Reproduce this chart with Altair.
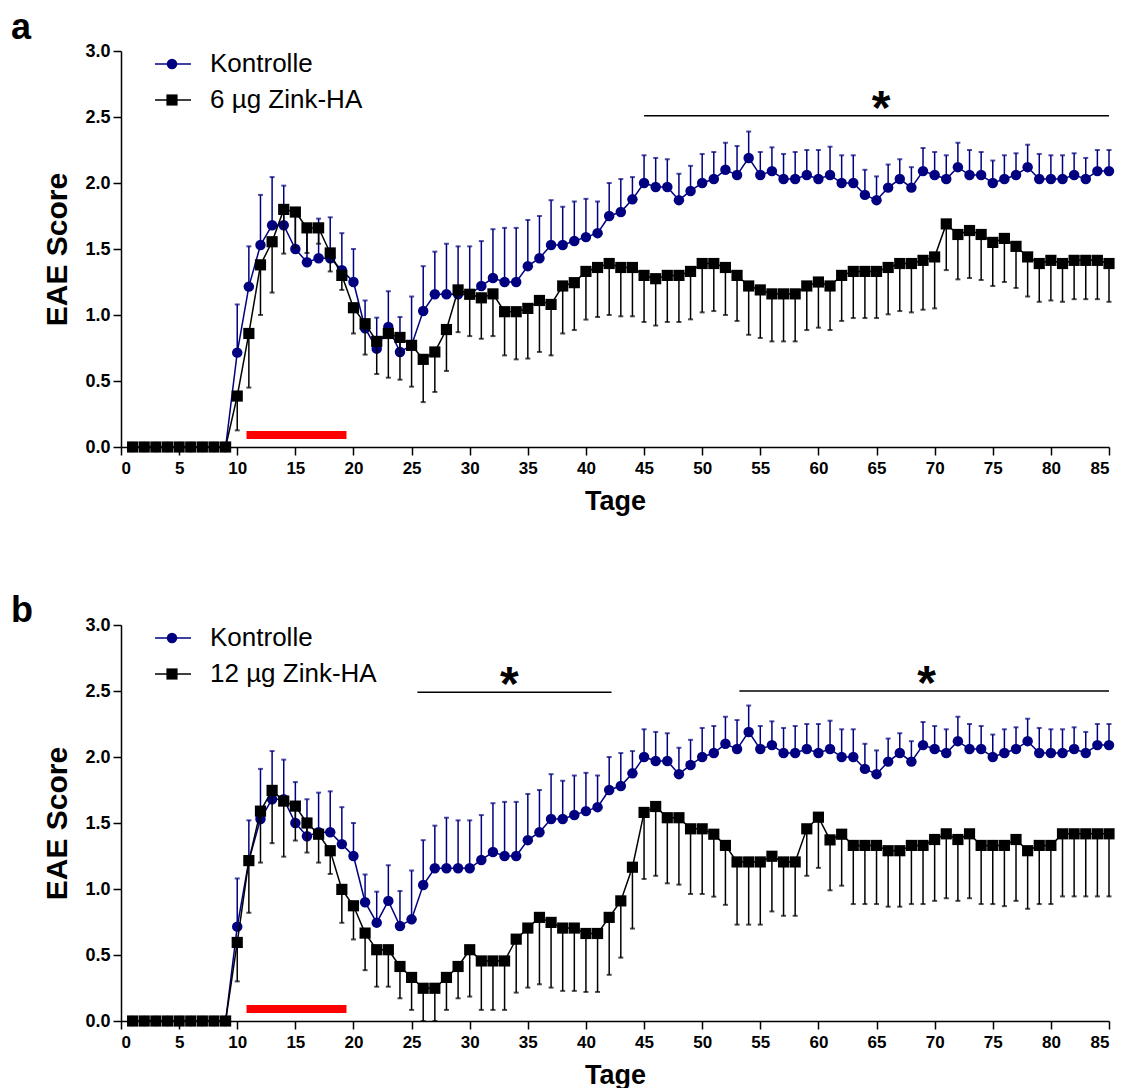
import altair as alt
import pandas as pd

# ---------------- data ----------------
days = list(range(1, 86))

ctrl_mean = [0, 0, 0, 0, 0, 0, 0, 0, 0,
             0.715, 1.215, 1.53, 1.68, 1.68, 1.50, 1.40, 1.43, 1.43, 1.34, 1.25,
             0.90, 0.745, 0.91, 0.72, 0.77, 1.03, 1.157, 1.157, 1.157, 1.157,
             1.22, 1.28, 1.25, 1.25, 1.37, 1.43, 1.53, 1.53, 1.56, 1.59,
             1.62, 1.75, 1.78, 1.876, 2.0, 1.97, 1.97, 1.87, 1.94, 2.0,
             2.03, 2.10, 2.06, 2.19, 2.06, 2.09, 2.03, 2.03, 2.06, 2.03,
             2.06, 2.0, 2.0, 1.91, 1.87, 1.965, 2.03, 1.965, 2.09, 2.06,
             2.03, 2.12, 2.06, 2.06, 2.0, 2.03, 2.06, 2.12, 2.03, 2.03,
             2.03, 2.06, 2.03, 2.09, 2.09]

ctrl_hi = [None] * 9 + [
             1.08, 1.52, 1.91, 2.045, 1.98, 1.81, 1.68, 1.73, 1.74, 1.62, 1.50,
             1.11, 0.98, 1.18, 0.985, 1.14, 1.37, 1.48, 1.54, 1.52, 1.52,
             1.56, 1.65, 1.66, 1.66, 1.72, 1.75, 1.87, 1.82, 1.86, 1.88,
             1.86, 2.0, 2.03, 2.045, 2.21, 2.19, 2.18, 2.07, 2.13, 2.22,
             2.235, 2.305, 2.28, 2.39, 2.235, 2.27, 2.22, 2.235, 2.25, 2.25,
             2.275, 2.21, 2.21, 2.10, 2.05, 2.14, 2.18, 2.12, 2.265, 2.235,
             2.21, 2.305, 2.25, 2.235, 2.17, 2.21, 2.225, 2.29, 2.22, 2.21,
             2.21, 2.225, 2.19, 2.25, 2.25]

zn6_mean = [0, 0, 0, 0, 0, 0, 0, 0, 0,
            0.386, 0.86, 1.38, 1.555, 1.80, 1.78, 1.66, 1.66, 1.47, 1.30, 1.055,
            0.934, 0.80, 0.86, 0.83, 0.77, 0.664, 0.72, 0.89, 1.19, 1.157,
            1.13, 1.16, 1.025, 1.025, 1.05, 1.11, 1.08, 1.22, 1.245, 1.33,
            1.36, 1.39, 1.36, 1.36, 1.30, 1.275, 1.30, 1.30, 1.33, 1.39,
            1.39, 1.36, 1.30, 1.22, 1.19, 1.16, 1.16, 1.16, 1.22, 1.25,
            1.22, 1.30, 1.33, 1.33, 1.33, 1.36, 1.39, 1.39, 1.414, 1.44,
            1.69, 1.61, 1.64, 1.61, 1.55, 1.58, 1.52, 1.44, 1.39, 1.414,
            1.39, 1.414, 1.414, 1.414, 1.39]

zn6_lo = [None] * 9 + [
            0.126, 0.45, 1.0, 1.17, 1.465, 1.51, 1.47, 1.54, 1.33, 1.19, 0.86,
            0.70, 0.553, 0.525, 0.51, 0.457, 0.34, 0.417, 0.576, 0.87, 0.84,
            0.82, 0.84, 0.694, 0.664, 0.67, 0.72, 0.694, 0.86, 0.886, 0.965,
            0.985, 1.0, 0.99, 0.99, 0.947, 0.92, 0.947, 0.947, 0.967, 1.02,
            1.03, 1.0, 0.955, 0.85, 0.826, 0.80, 0.80, 0.80, 0.886, 0.904,
            0.886, 0.955, 0.977, 0.977, 0.977, 1.005, 1.03, 1.02, 1.04, 1.05,
            1.34, 1.27, 1.28, 1.265, 1.22, 1.25, 1.205, 1.14, 1.10, 1.11,
            1.10, 1.12, 1.12, 1.12, 1.10]

zn12_mean = [0, 0, 0, 0, 0, 0, 0, 0, 0,
             0.595, 1.215, 1.59, 1.747, 1.666, 1.628, 1.50, 1.415, 1.29, 0.997, 0.873,
             0.666, 0.54, 0.54, 0.413, 0.33, 0.248, 0.248, 0.33, 0.413, 0.54,
             0.455, 0.455, 0.455, 0.62, 0.704, 0.785, 0.747, 0.704, 0.704, 0.663,
             0.663, 0.785, 0.91, 1.165, 1.58, 1.625, 1.54, 1.54, 1.456, 1.456,
             1.415, 1.33, 1.205, 1.205, 1.205, 1.248, 1.205, 1.205, 1.456, 1.544,
             1.372, 1.415, 1.33, 1.33, 1.33, 1.29, 1.29, 1.33, 1.33, 1.375,
             1.418, 1.375, 1.418, 1.33, 1.33, 1.33, 1.375, 1.29, 1.33, 1.33,
             1.418, 1.418, 1.418, 1.418, 1.418]

zn12_lo = [None] * 9 + [
             0.30, 0.82, 1.20, 1.347, 1.245, 1.367, 1.276, 1.20, 1.114, 0.744, 0.618,
             0.385, 0.26, 0.26, 0.172, 0.084, 0.0, 0.0, 0.084, 0.172, 0.185,
             0.084, 0.084, 0.084, 0.215, 0.253, 0.278, 0.253, 0.228, 0.228, 0.22,
             0.22, 0.35, 0.48, 0.70, 1.076, 1.10, 1.043, 1.033, 0.962, 0.962,
             0.942, 0.88, 0.73, 0.73, 0.73, 0.83, 0.797, 0.797, 1.10, 1.16,
             0.99, 1.025, 0.886, 0.886, 0.886, 0.866, 0.866, 0.886, 0.886, 0.91,
             0.93, 0.91, 0.93, 0.886, 0.886, 0.87, 0.91, 0.85, 0.886, 0.886,
             0.944, 0.944, 0.944, 0.944, 0.944]

x_ticks = list(range(0, 86, 5))
y_ticks = [0.0, 0.5, 1.0, 1.5, 2.0, 2.5, 3.0]

treat_start = [10.8]
treat_end = [19.4]
treat_level = [0.09]

sig_a_start = [45.0]
sig_a_end = [85.0]
sig_a_y = [2.51]
sig_a_star = [65.4]

sig_b_start = [25.5, 53.2]
sig_b_end = [42.2, 85.0]
sig_b_y = [2.49, 2.50]
sig_b_star = [33.4, 69.3]

ctrl_label = "Kontrolle"
labels_ab = ["6 µg Zink-HA", "12 µg Zink-HA"]
letters = ["a", "b"]

# ---------------- style ----------------
FONT = "Liberation Sans, Arial, sans-serif"
NAVY = "#000080"
W, H = 988, 396

xscale = alt.Scale(domain=[0, 85], nice=False, zero=False)
yscale = alt.Scale(domain=[0, 3], nice=False)
xaxis = alt.Axis(values=x_ticks, title="Tage", format="d")
yaxis = alt.Axis(values=y_ticks, title="EAE Score", format=".1f")


def X(field):
    return alt.X(field, type="quantitative", scale=xscale, axis=xaxis)


def Y(field):
    return alt.Y(field, type="quantitative", scale=yscale, axis=yaxis)


def panel(trt_mean, trt_lo, trt_label, s_start, s_end, s_y, s_star, letter, letter_y):
    df = pd.DataFrame({"day": days, "ctrl": ctrl_mean, "ctrl_hi": ctrl_hi,
                       "trt": trt_mean, "trt_lo": trt_lo})
    base = alt.Chart(df)

    red = alt.Chart(pd.DataFrame({"s": treat_start, "e": treat_end, "lv": treat_level})).mark_rule(
        color="#ff0000", strokeWidth=8, strokeCap="butt"
    ).encode(x=X("s"), x2="e", y=Y("lv"))

    sigdf = pd.DataFrame({"s": s_start, "e": s_end, "y": s_y, "star": s_star})
    sig = alt.Chart(sigdf).mark_rule(color="black", strokeWidth=1.5).encode(
        x=X("s"), x2="e", y=Y("y"))
    star = alt.Chart(sigdf).mark_text(text="*", font=FONT, fontSize=48, fontWeight="bold",
                                      baseline="alphabetic", dy=8, color="black").encode(
        x=X("star"), y=Y("y"))

    ctrl_line = base.mark_line(color=NAVY, strokeWidth=1.5).encode(x=X("day"), y=Y("ctrl"))
    ctrl_err = base.transform_filter("isValid(datum.ctrl_hi)").mark_rule(color=NAVY, strokeWidth=1.5).encode(
        x=X("day"), y=Y("ctrl"), y2="ctrl_hi")
    ctrl_cap = base.transform_filter("isValid(datum.ctrl_hi)").mark_tick(
        color=NAVY, orient="horizontal", size=5, thickness=2).encode(x=X("day"), y=Y("ctrl_hi"))
    ctrl_pts = base.mark_point(shape="circle", filled=True, size=110, color=NAVY, opacity=1).encode(
        x=X("day"), y=Y("ctrl"))

    trt_line = base.mark_line(color="black", strokeWidth=1.5).encode(x=X("day"), y=Y("trt"))
    trt_err = base.transform_filter("isValid(datum.trt_lo)").mark_rule(color="black", strokeWidth=1.5).encode(
        x=X("day"), y=Y("trt"), y2="trt_lo")
    trt_cap = base.transform_filter("isValid(datum.trt_lo)").mark_tick(
        color="black", orient="horizontal", size=5, thickness=2).encode(x=X("day"), y=Y("trt_lo"))
    trt_pts = base.mark_point(shape="square", filled=True, size=125, color="black", opacity=1).encode(
        x=X("day"), y=Y("trt"))

    # legend
    leg = alt.Chart(pd.DataFrame({"label": [ctrl_label]}))
    leg2 = alt.Chart(pd.DataFrame({"label": [trt_label]}))
    ly1, ly2 = 13, 49
    legend_layers = [
        leg.mark_rule(color=NAVY, strokeWidth=1.5).encode(x=alt.value(34), x2=alt.value(70), y=alt.value(ly1)),
        leg.mark_point(shape="circle", filled=True, size=110, color=NAVY, opacity=1).encode(
            x=alt.value(51), y=alt.value(ly1)),
        leg.mark_text(align="left", baseline="middle", font=FONT, fontSize=26, color="black").encode(
            x=alt.value(89), y=alt.value(ly1), text="label:N"),
        leg2.mark_rule(color="black", strokeWidth=1.5).encode(x=alt.value(34), x2=alt.value(70), y=alt.value(ly2)),
        leg2.mark_point(shape="square", filled=True, size=125, color="black", opacity=1).encode(
            x=alt.value(51), y=alt.value(ly2)),
        leg2.mark_text(align="left", baseline="middle", font=FONT, fontSize=26, color="black").encode(
            x=alt.value(89), y=alt.value(ly2), text="label:N"),
    ]

    let = alt.Chart(pd.DataFrame({"t": [letter]})).mark_text(
        align="left", baseline="alphabetic", font=FONT, fontSize=36, fontWeight="bold", color="black"
    ).encode(x=alt.value(-110), y=alt.value(letter_y), text="t:N")

    return alt.layer(ctrl_line, red, sig, star, ctrl_err, ctrl_cap, ctrl_pts,
                     trt_line, trt_err, trt_cap, trt_pts, *legend_layers, let).properties(width=W, height=H)


pa = panel(zn6_mean, zn6_lo, labels_ab[0], sig_a_start, sig_a_end, sig_a_y, sig_a_star, letters[0], -12)
pb = panel(zn12_mean, zn12_lo, labels_ab[1], sig_b_start, sig_b_end, sig_b_y, sig_b_star, letters[1], -3)

chart = alt.vconcat(pa, pb, spacing=79).properties(
    padding={"left": 11, "top": 10, "right": 5, "bottom": 5}
).configure_view(stroke=None).configure_axis(
    grid=False,
    domainColor="black", domainWidth=1.5,
    tickColor="black", tickWidth=1.5, tickSize=8,
    labelFont=FONT, labelFontWeight="bold", labelColor="black",
    titleFont=FONT, titleFontWeight="bold", titleColor="black",
).configure_axisX(
    labelFontSize=17, labelPadding=5, titleFontSize=27, titlePadding=12,
).configure_axisY(
    labelFontSize=18, labelPadding=3, titleFontSize=30, titlePadding=12,
)

chart.save("out.html", embed_options={"renderer": "svg", "actions": False})
